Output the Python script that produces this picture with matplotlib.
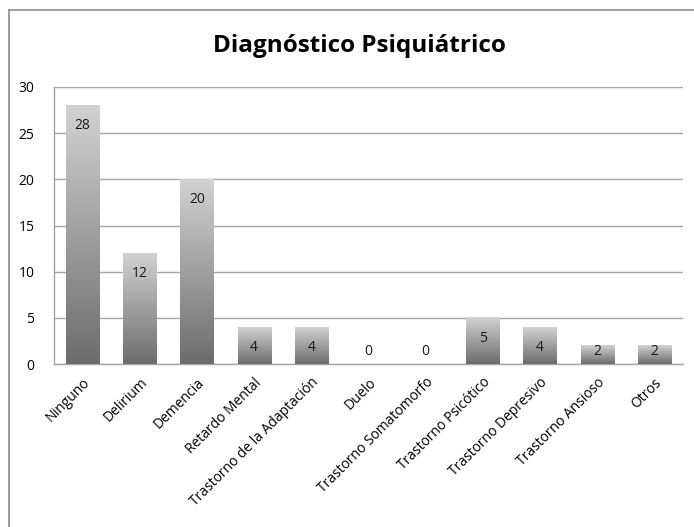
import matplotlib
matplotlib.use('Agg')
import matplotlib.pyplot as plt
import numpy as np
from matplotlib.colors import LinearSegmentedColormap
from matplotlib.lines import Line2D

# diagnosis categories and patient counts
categorias = ['Ninguno', 'Delirium', 'Demencia', 'Retardo Mental',
              'Trastorno de la Adaptación', 'Duelo', 'Trastorno Somatomorfo',
              'Trastorno Psicótico', 'Trastorno Depresivo', 'Trastorno Ansioso',
              'Otros']
valores = [28, 12, 20, 4, 4, 0, 0, 5, 4, 2, 2]
yticks = [0, 5, 10, 15, 20, 25, 30]

plt.rcParams['font.family'] = ['Open Sans', 'DejaVu Sans']

fig = plt.figure(figsize=(6.94, 5.27), dpi=100)
ax = fig.add_axes([54/694, 1 - 364/527, (683 - 54)/694, (364 - 87)/527])

# outer chart frame (only top and left edges fall inside the image)
xb, yb = 9/694, 1 - 9.5/527
fig.add_artist(Line2D([xb, 1.0], [yb, yb], transform=fig.transFigure,
                      color='#8c8c8c', linewidth=1.2))
fig.add_artist(Line2D([xb, xb], [0.0, yb], transform=fig.transFigure,
                      color='#8c8c8c', linewidth=1.2))

gris = LinearSegmentedColormap.from_list('gris', ['#6c6c6c', '#d2d2d2'])
grad = np.linspace(0, 1, 256).reshape(-1, 1)

ancho = 0.58
x = np.arange(len(categorias))
for xi, v in zip(x, valores):
    if v > 0:
        ax.imshow(grad, extent=[xi - ancho/2, xi + ancho/2, 0, v], origin='lower',
                  aspect='auto', cmap=gris, zorder=3)
    ypos = max(v - 2.2, 1.3)
    ax.text(xi, ypos, str(v), ha='center', va='center', fontsize=10,
            color='#1a1a1a', zorder=4)

ax.set_xlim(-0.5, len(categorias) - 0.5)
ax.set_ylim(0, 30)
ax.set_yticks(yticks)
ax.set_yticklabels([str(t) for t in yticks], fontsize=10)
ax.set_xticks(x)
ax.set_xticklabels(categorias, rotation=45, ha='right', rotation_mode='anchor',
                   fontsize=10)
ax.tick_params(axis='both', length=0)
ax.tick_params(axis='y', pad=14)
ax.tick_params(axis='x', pad=8)

ax.grid(axis='y', color='#a6a6a6', linewidth=1.0, zorder=1)
ax.set_axisbelow(True)
for s in ['top', 'right']:
    ax.spines[s].set_visible(False)
for s in ['left', 'bottom']:
    ax.spines[s].set_color('#a6a6a6')
    ax.spines[s].set_linewidth(1.0)

fig.text(359/694, 1 - 46/527, 'Diagnóstico Psiquiátrico', ha='center',
         va='center', fontsize=17.5, fontweight='bold')

fig.savefig('out.png', dpi=100)
